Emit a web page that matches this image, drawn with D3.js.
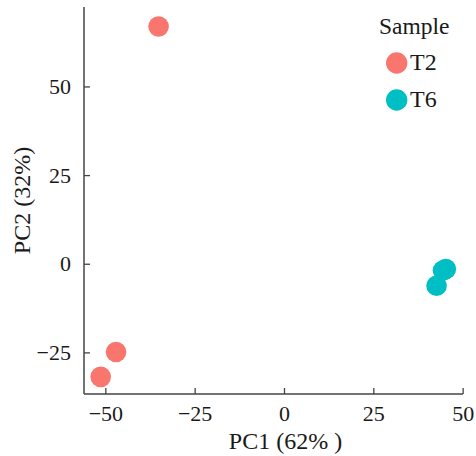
<!DOCTYPE html>
<html>
<head>
<meta charset="utf-8">
<script src="https://cdn.jsdelivr.net/npm/d3@7"></script>
<style>
html,body{margin:0;padding:0;background:#fff;}
svg{display:block;}
svg text{font-family:"Liberation Serif","Tinos","Times New Roman","Nimbus Roman","DejaVu Serif",serif !important;fill:#1a1a1a;}
</style>
</head>
<body>
<svg id="chart" width="476" height="456"></svg>
<script>
const groups = ["T2", "T6"];
const groupColors = ["#F8766D", "#00BFC4"];
const sampleGroup = ["T2", "T2", "T2", "T6", "T6", "T6"];
const pc1Values = [-35.1, -47.0, -51.3, 44.5, 45.3, 42.7];
const pc2Values = [66.9, -24.9, -31.9, -1.9, -1.5, -6.2];
const xTicks = [-50, -25, 0, 25, 50];
const yTicks = [-25, 0, 25, 50];
const xTitle = "PC1 (62% )";
const yTitle = "PC2 (32%)";
const legendTitle = "Sample";

(function () {
const svg = d3.select("#chart");
const mLeft = 84, mRight = 463, mTop = 7, mBottom = 394;

const x = d3.scaleLinear().domain([-55.97, 50.1]).range([mLeft, mRight]);
const y = d3.scaleLinear().domain([-36.73, 72.4]).range([mBottom, mTop]);
const color = d3.scaleOrdinal().domain(groups).range(groupColors);

const axisColor = "#444";
const tickFont = 22;
const titleFont = 24;
const serif = "'Liberation Serif', Tinos, 'Times New Roman', 'DejaVu Serif', serif";

// X axis
const xAxis = svg.append("g").attr("transform", `translate(0,${mBottom})`)
  .call(d3.axisBottom(x).tickValues(xTicks).tickSize(-6).tickPadding(11)
    .tickFormat(d => d < 0 ? "\u2212" + Math.abs(d) : d));
xAxis.attr("font-family", serif);
xAxis.select(".domain").attr("stroke", axisColor).attr("stroke-width", 1.5).attr("d", `M${mLeft},0H${mRight}`);
xAxis.selectAll(".tick line").attr("stroke", axisColor).attr("stroke-width", 1.3);
xAxis.selectAll(".tick text").attr("font-size", tickFont).attr("fill", "#1a1a1a");

// Y axis
const yAxis = svg.append("g").attr("transform", `translate(${mLeft},0)`)
  .call(d3.axisLeft(y).tickValues(yTicks).tickSize(-6).tickPadding(13)
    .tickFormat(d => d < 0 ? "\u2212" + Math.abs(d) : d));
yAxis.attr("font-family", serif);
yAxis.select(".domain").attr("stroke", axisColor).attr("stroke-width", 1.5).attr("d", `M0,${mTop}V${mBottom}`);
yAxis.selectAll(".tick line").attr("stroke", axisColor).attr("stroke-width", 1.3);
yAxis.selectAll(".tick text").attr("font-size", tickFont).attr("fill", "#1a1a1a");

// Points
const pts = pc1Values.map((v, i) => ({x: v, y: pc2Values[i], g: sampleGroup[i]}));
svg.append("g").selectAll("circle").data(pts).enter().append("circle")
  .attr("cx", d => x(d.x)).attr("cy", d => y(d.y)).attr("r", 10.3)
  .attr("fill", d => color(d.g));

// Axis titles
svg.append("text").attr("x", 285.5).attr("y", 449).attr("text-anchor", "middle")
  .attr("font-family", serif).attr("font-size", titleFont).text(xTitle);
svg.append("text").attr("transform", `translate(29.5,${(mTop + mBottom) / 2}) rotate(-90)`)
  .attr("text-anchor", "middle").attr("font-family", serif).attr("font-size", titleFont).text(yTitle);

// Legend
const lg = svg.append("g").attr("font-family", serif);
lg.append("text").attr("x", 379).attr("y", 34).attr("font-size", 23.5).text(legendTitle);
groups.forEach((g, i) => {
  const cy = 63 + i * 37;
  lg.append("circle").attr("cx", 396.7).attr("cy", cy).attr("r", 10.7).attr("fill", color(g));
  lg.append("text").attr("x", 410).attr("y", cy + 6.5).attr("font-size", titleFont).text(g);
});
})();
</script>
</body>
</html>
